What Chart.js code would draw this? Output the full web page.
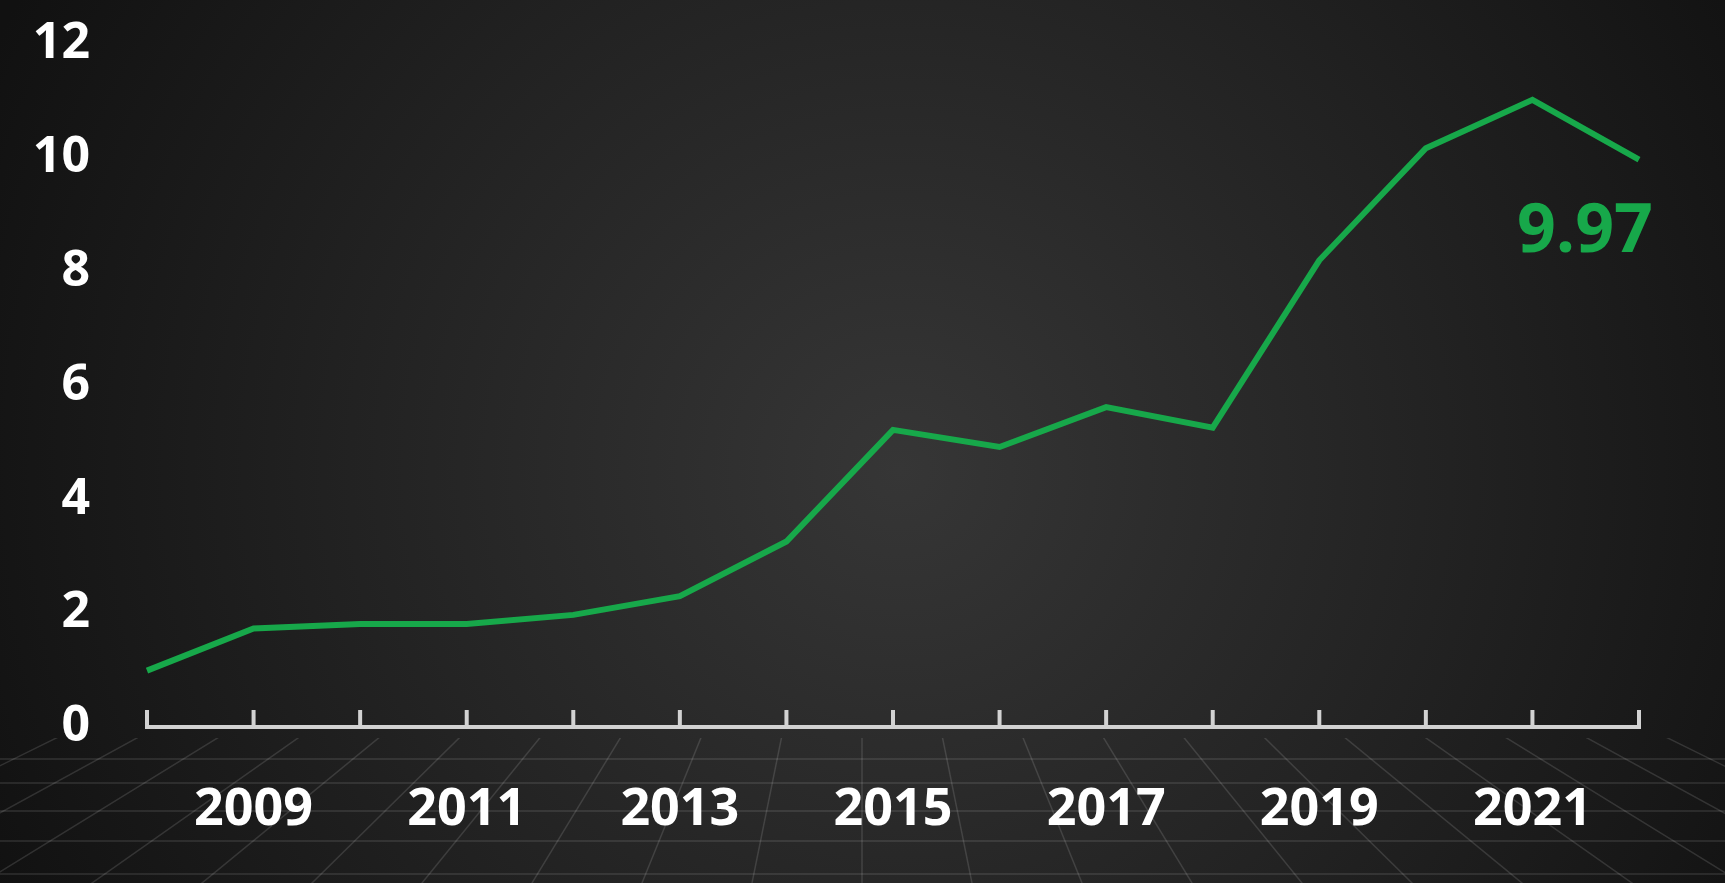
<!DOCTYPE html>
<html lang="en">
<head>
    <meta charset="UTF-8">
    <title>Line Chart</title>
    <script src="https://cdn.jsdelivr.net/npm/chart.js"></script>
    <style>
        html, body { margin: 0; padding: 0; background: #141414; overflow: hidden; }
        #wrap { width: 1725px; height: 883px; position: relative; }
    </style>
</head>
<body>
<div id="wrap">
    <canvas id="lineChart"></canvas>
</div>

<script>
// data
var years = ['2008', '2009', '2010', '2011', '2012', '2013', '2014', '2015',
             '2016', '2017', '2018', '2019', '2020', '2021', '2022'];
var values = [0.99, 1.73, 1.81, 1.81, 1.97, 2.30, 3.26, 5.22,
              4.92, 5.62, 5.26, 8.20, 10.17, 11.02, 9.97];
var yTicks = [0, 2, 4, 6, 8, 10, 12];

var green = '#17a84a';
var axisGrey = '#d2d2d2';
var font = '"Open Sans", "Noto Sans", sans-serif';

// dark radial backdrop + perspective floor grid
var backdrop = {
    id: 'backdrop',
    beforeDraw: function(chart) {
        var ctx = chart.ctx, w = chart.width, h = chart.height;
        ctx.save();
        var g = ctx.createRadialGradient(900, 470, 0, 900, 470, 1000);
        g.addColorStop(0, '#363636');
        g.addColorStop(0.55, '#222222');
        g.addColorStop(1, '#111111');
        ctx.fillStyle = g;
        ctx.fillRect(0, 0, w, h);

        // floor grid below the axis
        var top = 738;
        ctx.beginPath();
        ctx.rect(0, top, w, h - top);
        ctx.clip();
        ctx.strokeStyle = 'rgba(255,255,255,0.13)';
        ctx.lineWidth = 1.5;
        var vx = 862, vy = 341;
        for (var k = -16; k <= 16; k++) {
            var bx = vx + k * 110;
            ctx.beginPath();
            ctx.moveTo(vx, vy);
            ctx.lineTo(vx + (bx - vx) * 1.2, vy + (h - vy) * 1.2);
            ctx.stroke();
        }
        [759, 783, 811, 841, 874].forEach(function(y) {
            ctx.beginPath();
            ctx.moveTo(0, y);
            ctx.lineTo(w, y);
            ctx.stroke();
        });
        ctx.restore();
    }
};

// upward tick marks on the x axis and the end value label
var extras = {
    id: 'extras',
    afterDraw: function(chart) {
        var ctx = chart.ctx;
        var xs = chart.scales.x, ys = chart.scales.y;
        var base = ys.getPixelForValue(0);
        ctx.save();
        ctx.strokeStyle = axisGrey;
        ctx.lineWidth = 4;
        for (var i = 0; i < years.length; i++) {
            var x = xs.getPixelForValue(i);
            ctx.beginPath();
            ctx.moveTo(x, base + 2);
            ctx.lineTo(x, base - 17);
            ctx.stroke();
        }
        var meta = chart.getDatasetMeta(0);
        var last = meta.data[meta.data.length - 1];
        ctx.fillStyle = green;
        ctx.font = 'bold 68px ' + font;
        ctx.textAlign = 'right';
        ctx.textBaseline = 'middle';
        ctx.fillText(values[values.length - 1].toFixed(2), last.x + 14, last.y + 73);
        ctx.restore();
    }
};

var ctx = document.getElementById('lineChart').getContext('2d');
var lineChart = new Chart(ctx, {
    type: 'line',
    data: {
        labels: years,
        datasets: [{
            data: values,
            borderColor: green,
            borderWidth: 6,
            fill: false,
            tension: 0,
            pointRadius: 0
        }]
    },
    options: {
        responsive: true,
        maintainAspectRatio: false,
        animation: false,
        events: [],
        layout: { padding: { left: 0, right: 86, top: 44, bottom: 0 } },
        plugins: {
            legend: { display: false },
            tooltip: { enabled: false }
        },
        scales: {
            x: {
                grid: { display: false },
                border: { display: true, color: axisGrey, width: 4 },
                ticks: {
                    autoSkip: false,
                    maxRotation: 0,
                    padding: 44,
                    color: '#ffffff',
                    font: { family: font, size: 52, weight: 'bold' },
                    callback: function(val, i) {
                        return (i % 2 === 1) ? years[i] : '';
                    }
                },
                afterFit: function(s) { s.height = 883 - 727; }
            },
            y: {
                min: 0,
                max: 12,
                // invisible tick marks keep the gap between labels and plot
                grid: { display: true, drawOnChartArea: false, drawTicks: true,
                        tickLength: 57, color: 'rgba(0,0,0,0)' },
                border: { display: false },
                afterBuildTicks: function(s) {
                    s.ticks = yTicks.map(function(v) { return { value: v }; });
                },
                ticks: {
                    padding: 0,
                    color: '#ffffff',
                    font: { family: font, size: 50, weight: 'bold' }
                },
                afterFit: function(s) { s.width = 147; }
            }
        }
    },
    plugins: [backdrop, extras]
});
</script>
</body>
</html>
